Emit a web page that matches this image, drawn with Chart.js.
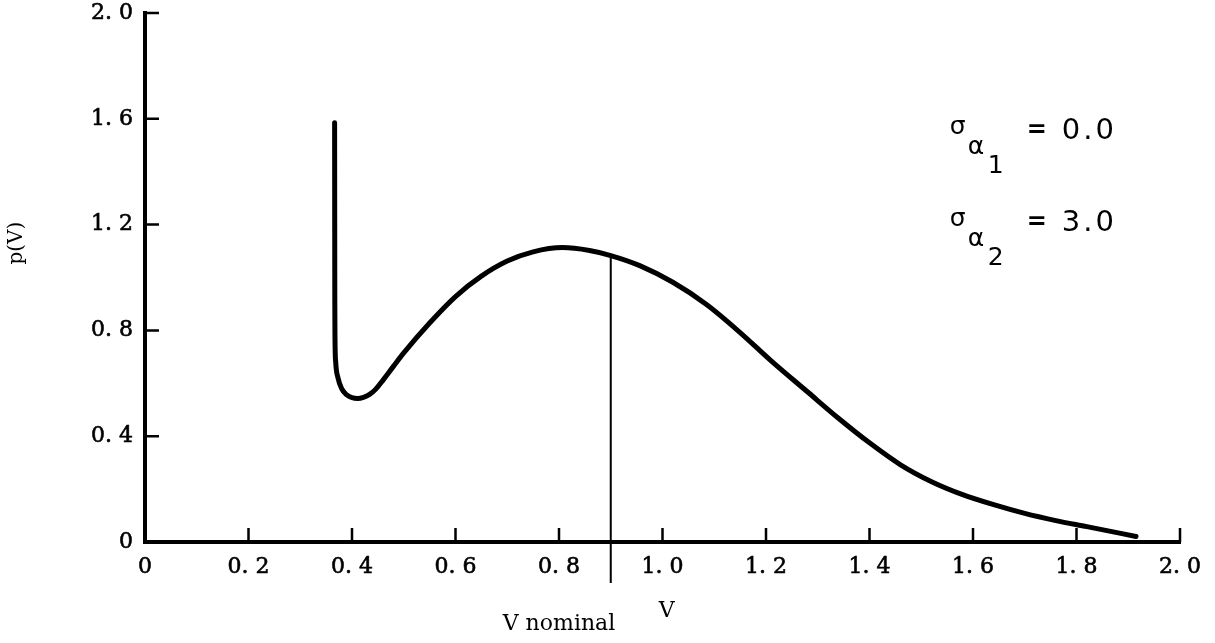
<!DOCTYPE html>
<html>
<head>
<meta charset="utf-8">
<script src="https://cdn.jsdelivr.net/npm/chart.js@4.4.1/dist/chart.umd.min.js"></script>
<style>
  html, body { margin: 0; padding: 0; background: #fff; }
  #wrap { width: 1215px; height: 643px; }
</style>
</head>
<body>
<div id="wrap"><canvas id="c" width="1215" height="643"></canvas></div>
<script>
// Probability density p(V) of the output V
const vValues = [0.3664, 0.3666, 0.3668, 0.3672, 0.3685, 0.373, 0.380, 0.390, 0.400, 0.411,
                 0.422, 0.434, 0.446, 0.460, 0.480, 0.500, 0.550, 0.600, 0.650, 0.700,
                 0.750, 0.807, 0.859, 0.900, 0.956, 1.020, 1.085, 1.150, 1.210, 1.280,
                 1.340, 1.400, 1.460, 1.520, 1.580, 1.640, 1.700, 1.760, 1.820, 1.915];
const pValues = [1.585, 1.20, 0.90, 0.76, 0.68, 0.62, 0.58, 0.556, 0.546, 0.543,
                 0.547, 0.558, 0.578, 0.612, 0.664, 0.715, 0.828, 0.928, 1.005, 1.062,
                 1.097, 1.113, 1.102, 1.083, 1.045, 0.982, 0.898, 0.792, 0.685, 0.568,
                 0.468, 0.375, 0.292, 0.228, 0.179, 0.141, 0.108, 0.081, 0.058, 0.021];

// Axis ticks
const xTickValues = [0, 0.2, 0.4, 0.6, 0.8, 1.0, 1.2, 1.4, 1.6, 1.8, 2.0];
const xTickLabels = ['0', '0. 2', '0. 4', '0. 6', '0. 8', '1. 0', '1. 2', '1. 4', '1. 6', '1. 8', '2. 0'];
const yTickValues = [0, 0.4, 0.8, 1.2, 1.6, 2.0];
const yTickLabels = ['0', '0. 4', '0. 8', '1. 2', '1. 6', '2. 0'];

// Nominal output marker
const vNominal = 0.9;
const nominalTop = 1.083;
const nominalBottom = -0.155;

// Parameter annotation
const sigmaSubs = ['1', '2'];
const sigmaValues = ['0.0', '3.0'];

const curvePoints = vValues.map((v, i) => ({ x: v, y: pValues[i] }));
const nominalPoints = [{ x: vNominal, y: nominalTop }, { x: vNominal, y: nominalBottom }];

const SERIF = '"DejaVu Serif", "Liberation Serif", serif';
const SANS = '"DejaVu Sans", sans-serif';

// Short tick marks drawn inward from the axes
const innerTicks = {
  id: 'innerTicks',
  afterDraw(chart) {
    const { ctx, chartArea: a, scales: { x, y } } = chart;
    ctx.save();
    ctx.strokeStyle = '#000';
    ctx.lineWidth = 2.5;
    ctx.beginPath();
    xTickValues.forEach(v => {
      if (v === 0) return;
      const px = x.getPixelForValue(v);
      ctx.moveTo(px, a.bottom);
      ctx.lineTo(px, a.bottom - 14);
    });
    yTickValues.forEach(v => {
      if (v === 0) return;
      const py = y.getPixelForValue(v);
      ctx.moveTo(a.left, py);
      ctx.lineTo(a.left + 14, py);
    });
    ctx.stroke();
    ctx.restore();
  }
};

// Axis titles, the nominal label and the sigma annotation
const textLayer = {
  id: 'textLayer',
  afterDraw(chart) {
    const { ctx, chartArea: a, scales: { x, y } } = chart;
    ctx.save();
    ctx.fillStyle = '#000';

    // p(V) rotated
    ctx.save();
    ctx.translate(22, y.getPixelForValue(1.13));
    ctx.rotate(-Math.PI / 2);
    ctx.font = '20px ' + SERIF;
    ctx.textAlign = 'center';
    ctx.textBaseline = 'alphabetic';
    ctx.fillText('p(V)', 0, 0);
    ctx.restore();

    ctx.font = '22px ' + SERIF;
    ctx.textAlign = 'center';
    ctx.textBaseline = 'alphabetic';
    ctx.fillText('V', x.getPixelForValue(1.008), a.bottom + 75);
    ctx.fillText('V nominal', x.getPixelForValue(0.80), a.bottom + 88);

    // sigma_alpha_n = value
    ctx.textAlign = 'left';
    sigmaSubs.forEach((sub, i) => {
      const base = y.getPixelForValue(1.543) + i * 92;
      const x0 = x.getPixelForValue(1.555);
      ctx.font = '25px ' + SANS;
      ctx.fillText('σ', x0, base);
      ctx.fillText('α', x0 + 18, base + 20);
      ctx.fillText(sub, x0 + 38, base + 39);
      ctx.font = 'bold 24px ' + SANS;
      ctx.fillText('=', x0 + 77, base + 3);
      ctx.font = '29px ' + SANS;
      ctx.letterSpacing = '3px';
      ctx.fillText(sigmaValues[i], x0 + 112, base + 5);
      ctx.letterSpacing = '0px';
    });
    ctx.restore();
  }
};

new Chart(document.getElementById('c'), {
  type: 'scatter',
  data: {
    datasets: [
      {
        data: curvePoints,
        showLine: true,
        borderColor: '#000',
        borderWidth: 5,
        pointRadius: 0,
        cubicInterpolationMode: 'monotone',
        borderCapStyle: 'round',
        borderJoinStyle: 'round'
      },
      {
        data: nominalPoints,
        showLine: true,
        borderColor: '#000',
        borderWidth: 2,
        pointRadius: 0,
        clip: false
      }
    ]
  },
  options: {
    responsive: false,
    animation: false,
    devicePixelRatio: 1,
    layout: { padding: { top: 13, right: 35, left: 0, bottom: 0 } },
    plugins: { legend: { display: false }, tooltip: { enabled: false } },
    scales: {
      x: {
        type: 'linear',
        min: 0, max: 2.0,
        afterBuildTicks: s => { s.ticks = xTickValues.map(v => ({ value: v })); },
        afterFit: s => { s.height = 101; s.paddingLeft = 0; s.paddingRight = 0; },
        ticks: {
          callback: (v, i) => xTickLabels[i],
          color: '#000',
          textStrokeColor: '#000',
          textStrokeWidth: 0.6,
          font: { family: SERIF, size: 22 },
          padding: 12,
          maxRotation: 0,
          autoSkip: false
        },
        grid: { display: false, drawTicks: false },
        border: { display: true, color: '#000', width: 4 }
      },
      y: {
        type: 'linear',
        min: 0, max: 2.0,
        afterBuildTicks: s => { s.ticks = yTickValues.map(v => ({ value: v })); },
        afterFit: s => { s.width = 145; s.paddingTop = 0; s.paddingBottom = 0; },
        ticks: {
          callback: (v, i) => yTickLabels[i],
          color: '#000',
          textStrokeColor: '#000',
          textStrokeWidth: 0.6,
          font: { family: SERIF, size: 22 },
          padding: 12,
          autoSkip: false
        },
        grid: { display: false, drawTicks: false },
        border: { display: true, color: '#000', width: 4 }
      }
    }
  },
  plugins: [innerTicks, textLayer]
});
</script>
</body>
</html>
